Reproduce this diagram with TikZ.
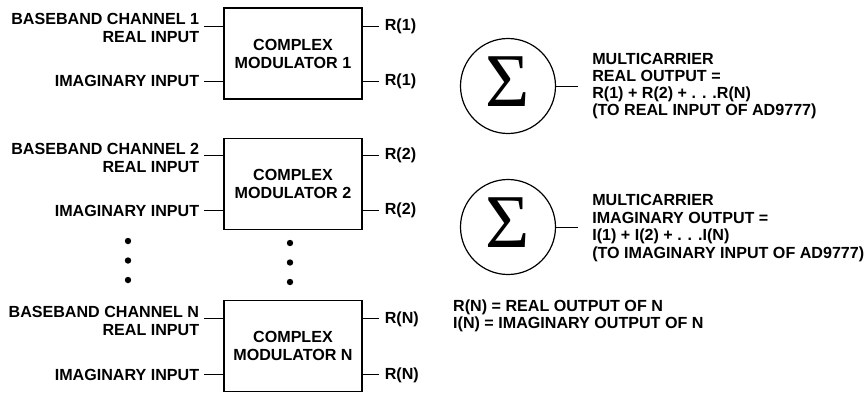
\documentclass[tikz,border=0pt]{standalone}
\usepackage{fontspec}
\setmainfont{Liberation Sans}
\newfontfamily\sigmafont{Liberation Serif}
\usetikzlibrary{positioning}

\tikzset{
    lbl/.style={inner sep=0pt, font=\bfseries\fontsize{16.1}{18}\selectfont},
    modbox/.style={lbl, draw, line width=1.3pt, minimum width=138pt, minimum height=91pt, align=center},
    wire/.style={line width=1pt},
    sumnode/.style={draw, circle, line width=1.2pt, minimum size=95pt, inner sep=0pt},
    sigma/.style={inner sep=0pt, yshift=4pt, font=\sigmafont\fontsize{76}{76}\selectfont}
}

\begin{document}
\begin{tikzpicture}[x=1pt, y=-1pt]
    \useasboundingbox (0,0) rectangle (865,392);

    % modulators
    \node[modbox] (m1) at (293,53.5) {COMPLEX\\MODULATOR 1};
    \node[modbox, below=38pt of m1] (m2) {COMPLEX\\MODULATOR 2};
    \node[modbox, below=70pt of m2] (mN) {COMPLEX\\MODULATOR N};

    % channel 1
    \coordinate (r1) at ([yshift=-19pt]m1.north west);
    \coordinate (i1) at ([yshift=-74pt]m1.north west);
    \coordinate (ro1) at ([yshift=-19pt]m1.north east);
    \coordinate (io1) at ([yshift=-74pt]m1.north east);
    \coordinate[left=19pt of r1] (r1x);
    \coordinate[left=19pt of i1] (i1x);
    \coordinate[right=16pt of ro1] (ro1x);
    \coordinate[right=16pt of io1] (io1x);
    \draw[wire] (r1) -- (r1x) (i1) -- (i1x) (ro1) -- (ro1x) (io1) -- (io1x);
    \node[lbl, left=5pt of r1x, yshift=-2pt, align=right] (r1l) {BASEBAND CHANNEL 1\\REAL INPUT};
    \node[lbl, left=5pt of i1x] (i1l) {IMAGINARY INPUT};
    \node[lbl, right=6pt of ro1x] (ro1l) {R(1)};
    \node[lbl, right=6pt of io1x] (io1l) {R(1)};

    % channel 2
    \coordinate (r2) at ([yshift=-18pt]m2.north west);
    \coordinate (i2) at ([yshift=-73pt]m2.north west);
    \coordinate (ro2) at ([yshift=-18pt]m2.north east);
    \coordinate (io2) at ([yshift=-73pt]m2.north east);
    \coordinate[left=19pt of r2] (r2x);
    \coordinate[left=19pt of i2] (i2x);
    \coordinate[right=16pt of ro2] (ro2x);
    \coordinate[right=16pt of io2] (io2x);
    \draw[wire] (r2) -- (r2x) (i2) -- (i2x) (ro2) -- (ro2x) (io2) -- (io2x);
    \node[lbl, left=5pt of r2x, yshift=-2pt, align=right] (r2l) {BASEBAND CHANNEL 2\\REAL INPUT};
    \node[lbl, left=5pt of i2x] (i2l) {IMAGINARY INPUT};
    \node[lbl, right=6pt of ro2x] (ro2l) {R(2)};
    \node[lbl, right=6pt of io2x] (io2l) {R(2)};

    % channel N
    \coordinate (rN) at ([yshift=-19pt]mN.north west);
    \coordinate (iN) at ([yshift=-75pt]mN.north west);
    \coordinate (roN) at ([yshift=-19pt]mN.north east);
    \coordinate (ioN) at ([yshift=-75pt]mN.north east);
    \coordinate[left=19pt of rN] (rNx);
    \coordinate[left=19pt of iN] (iNx);
    \coordinate[right=16pt of roN] (roNx);
    \coordinate[right=16pt of ioN] (ioNx);
    \draw[wire] (rN) -- (rNx) (iN) -- (iNx) (roN) -- (roNx) (ioN) -- (ioNx);
    \node[lbl, left=5pt of rNx, yshift=-2pt, align=right] (rNl) {BASEBAND CHANNEL N\\REAL INPUT};
    \node[lbl, left=5pt of iNx] (iNl) {IMAGINARY INPUT};
    \node[lbl, right=6pt of roNx] (roNl) {R(N)};
    \node[lbl, right=6pt of ioNx] (ioNl) {R(N)};

    % dots
    \fill (128,241) circle (3.2pt) (128,260.5) circle (3.2pt) (128,280) circle (3.2pt);
    \fill (290,243) circle (3.2pt) (290,262.5) circle (3.2pt) (290,282) circle (3.2pt);

    % summers
    \node[sumnode, label={[sigma]center:Σ}] (s1) at (508,86) {};
    \node[sumnode, label={[sigma]center:Σ}] (s2) at (508,227) {};
    \coordinate[right=22pt of s1.east] (s1x);
    \coordinate[right=22pt of s2.east] (s2x);
    \draw[wire] (s1.east) -- (s1x) (s2.east) -- (s2x);
    \node[lbl, right=14pt of s1x, align=left, font=\bfseries\fontsize{16.1}{17.2}\selectfont] (s1l)
        {MULTICARRIER\\REAL OUTPUT =\\R(1) + R(2) + . . .R(N)\\(TO REAL INPUT OF AD9777)};
    \node[lbl, right=14pt of s2x, yshift=-1pt, align=left, font=\bfseries\fontsize{16.1}{17.6}\selectfont] (s2l)
        {MULTICARRIER\\IMAGINARY OUTPUT =\\I(1) + I(2) + . . .I(N)\\(TO IMAGINARY INPUT OF AD9777)};

    % legend
    \node[lbl, anchor=west, align=left, font=\bfseries\fontsize{16.1}{17}\selectfont] (key) at (453,315.5)
        {R(N) = REAL OUTPUT OF N\\I(N) = IMAGINARY OUTPUT OF N};
\end{tikzpicture}
\end{document}
